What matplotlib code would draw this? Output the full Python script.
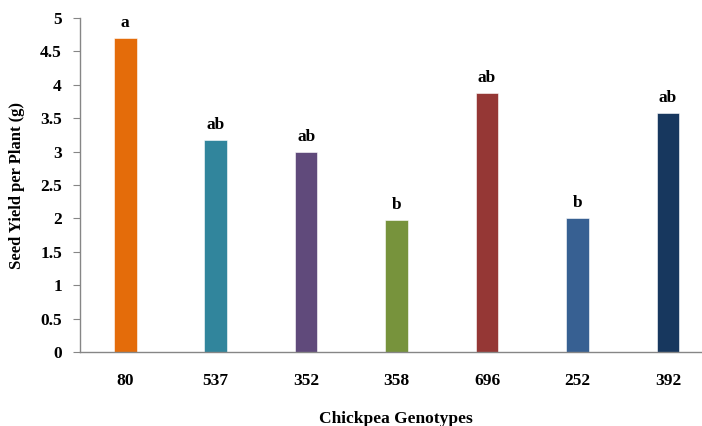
import matplotlib
matplotlib.use('Agg')
import matplotlib.pyplot as plt

genotypes = ['80', '537', '352', '358', '696', '252', '392']
seed_yield = [4.70, 3.18, 3.00, 1.98, 3.88, 2.00, 3.58]
letters = ['a', 'ab', 'ab', 'b', 'ab', 'b', 'ab']
colors = ['#E46C0A', '#31859C', '#604A7B', '#77933C', '#953735', '#376092', '#17375E']

plt.rcParams['font.family'] = ['Liberation Serif', 'DejaVu Serif']
plt.rcParams['font.weight'] = 'bold'

fig = plt.figure(figsize=(7.02, 4.26), dpi=100)
ax = fig.add_axes([0.114, 0.1737, 0.902, 0.784])

x = range(len(genotypes))
bars = ax.bar(x, seed_yield, width=0.25, color=colors, edgecolor='white', linewidth=0.4)
for rect, lab in zip(bars, letters):
    ax.annotate(lab, (rect.get_x() + rect.get_width() / 2, rect.get_height()),
                xytext=(0, 5), textcoords='offset points', ha='center', va='bottom',
                fontsize=12.5, fontweight='bold')

ax.set_xlim(-0.5, len(genotypes) - 0.5)
ax.set_ylim(0, 5)
ax.set_yticks([0, 0.5, 1, 1.5, 2, 2.5, 3, 3.5, 4, 4.5, 5])
ax.set_yticklabels(['0', '0.5', '1', '1.5', '2', '2.5', '3', '3.5', '4', '4.5', '5'])
ax.set_xticks(list(x))
ax.set_xticklabels(genotypes)

for side in ['top', 'right']:
    ax.spines[side].set_visible(False)
for side in ['left', 'bottom']:
    ax.spines[side].set_color('#868686')
    ax.spines[side].set_linewidth(1.0)

ax.tick_params(axis='y', direction='out', length=5, color='#868686', labelsize=12.5, pad=8)
ax.tick_params(axis='x', length=0, labelsize=12.5, pad=15)
for lbl in ax.get_xticklabels() + ax.get_yticklabels():
    lbl.set_fontweight('bold')

ax.set_xlabel('Chickpea Genotypes', fontsize=12.5, fontweight='bold', va='center')
ax.set_ylabel('Seed Yield per Plant (g)', fontsize=12, fontweight='bold', va='center')
ax.xaxis.set_label_coords(0.499, -0.2)
ax.yaxis.set_label_coords(-0.0995, 0.5)

fig.savefig('out.png', dpi=100)
